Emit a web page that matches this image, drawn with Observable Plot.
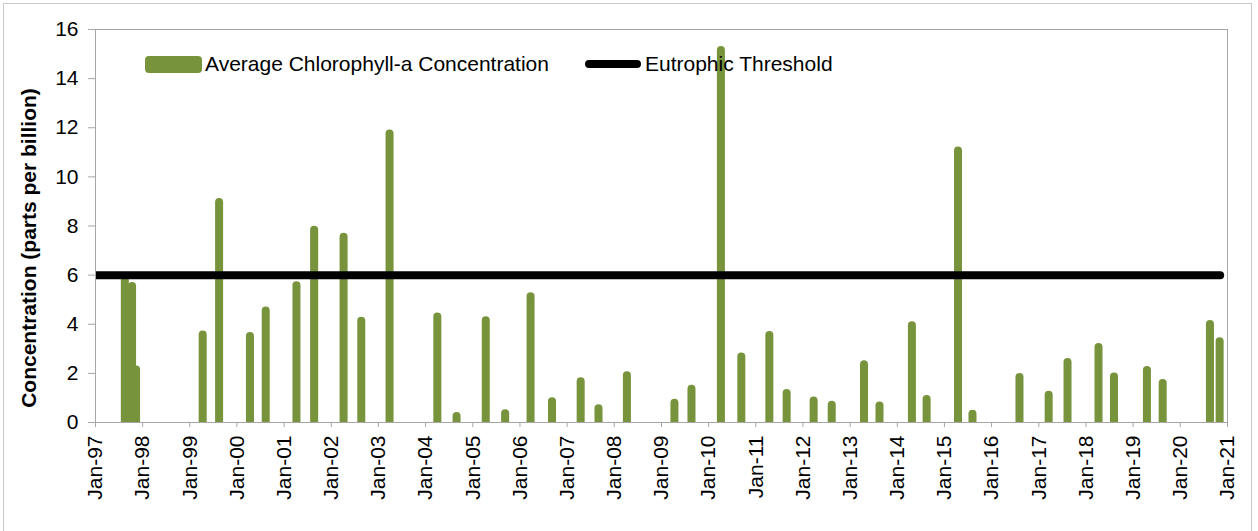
<!DOCTYPE html>
<html>
<head>
<meta charset="utf-8">
<script src="https://cdn.jsdelivr.net/npm/d3@7"></script>
<script src="https://cdn.jsdelivr.net/npm/@observablehq/plot@0.6"></script>
<style>
  body { margin: 0; background: #fff; font-family: "Liberation Sans", Arial, sans-serif; }
  #wrap { position: relative; width: 1258px; height: 531px; overflow: hidden; }
  #border { position: absolute; left: 3px; top: 3px; width: 1247px; height: 560px; border: 1px solid #c8c8c8; }
  #chart { position: absolute; left: 0; top: 0; }
  .lg { position: absolute; font-size: 21px; line-height: 21px; color: #000; white-space: nowrap; }
  .sw { position: absolute; }
</style>
</head>
<body>
<div id="wrap">
  <div id="border"></div>
  <div id="chart"></div>
  <div id="legend"></div>
</div>
<script>
// ---- data ----
const sampleDates = [
  "1997-08-20", "1997-10-15", "1997-11-15",
  "1999-04-15", "1999-08-20",
  "2000-04-15", "2000-08-15",
  "2001-04-10", "2001-08-25",
  "2002-04-10", "2002-08-25",
  "2003-04-01",
  "2004-04-05", "2004-09-01",
  "2005-04-15", "2005-09-12",
  "2006-03-28", "2006-09-10",
  "2007-04-20", "2007-09-05",
  "2008-04-12",
  "2009-04-15", "2009-08-25",
  "2010-04-10", "2010-09-15",
  "2011-04-20", "2011-09-01",
  "2012-03-28", "2012-08-15",
  "2013-04-22", "2013-08-20",
  "2014-04-28", "2014-08-20",
  "2015-04-20", "2015-08-10",
  "2016-08-08",
  "2017-03-22", "2017-08-15",
  "2018-04-12", "2018-08-10",
  "2019-04-22", "2019-08-22",
  "2020-08-22", "2020-11-05"
];
const chlorophyll = [
  5.95, 5.7, 2.3,
  3.73, 9.12,
  3.66, 4.70,
  5.73, 7.99,
  7.70, 4.28,
  11.91,
  4.46, 0.41,
  4.31, 0.52,
  5.28, 1.01,
  1.82, 0.72,
  2.07,
  0.95, 1.52,
  15.31, 2.83,
  3.70, 1.34,
  1.04, 0.87,
  2.51, 0.83,
  4.10, 1.10,
  11.22, 0.50,
  1.99,
  1.27, 2.61,
  3.22, 2.02,
  2.28, 1.75,
  4.15, 3.45
];
const thresholdValue = 6;
const thresholdDates = ["1997-01-01", "2020-11-05"];
const xTickYears = [1997, 1998, 1999, 2000, 2001, 2002, 2003, 2004, 2005, 2006, 2007, 2008,
                    2009, 2010, 2011, 2012, 2013, 2014, 2015, 2016, 2017, 2018, 2019, 2020, 2021];
const yTicks = [0, 2, 4, 6, 8, 10, 12, 14, 16];
const yLabel = "Concentration (parts per billion)";
const seriesNames = ["Average Chlorophyll-a Concentration", "Eutrophic Threshold"];
const seriesColors = ["#77933c", "#000000"];

// ---- build tables ----
const bars = sampleDates.map((d, i) => ({ date: d3.isoParse(d), value: chlorophyll[i] }));
const threshold = thresholdDates.map(d => ({ date: d3.isoParse(d), value: thresholdValue }));
const xTicks = xTickYears.map(y => new Date(Date.UTC(y, 0, 1)));
const halfBar = 31; // days either side of sample date

const chart = Plot.plot({
  width: 1258,
  height: 531,
  marginLeft: 95,
  marginRight: 31,
  marginTop: 29,
  marginBottom: 109,
  style: { fontFamily: '"Liberation Sans", Arial, sans-serif', fontSize: "21px", color: "#000", background: "transparent", overflow: "visible" },
  x: { type: "utc", domain: [xTicks[0], xTicks[xTicks.length - 1]] },
  y: { domain: [0, 16] },
  marks: [
    Plot.rect(bars, {
      x1: d => d3.utcDay.offset(d.date, -halfBar),
      x2: d => d3.utcDay.offset(d.date, halfBar),
      y1: -0.6,
      y2: "value",
      rx: 4,
      fill: seriesColors[0],
      clip: true
    }),
    Plot.line(threshold, {
      x: "date", y: "value",
      stroke: seriesColors[1], strokeWidth: 8, strokeLinecap: "round",
      clip: true
    }),
    Plot.frame({ stroke: "#a6a6a6", strokeWidth: 1 }),
    Plot.axisY({
      ticks: yTicks, tickSize: 7, tickPadding: 10, stroke: "#a6a6a6",
      label: null, fontSize: 21, fill: "#000"
    }),
    Plot.axisX({
      ticks: xTicks, tickFormat: d3.utcFormat("%b-%y"), tickRotate: -90,
      tickSize: 5, tickPadding: 8, stroke: "#a6a6a6",
      label: null, fontSize: 21, fill: "#000"
    }),
    Plot.text([yLabel], {
      text: d => d, frameAnchor: "left", textAnchor: "middle", rotate: -90,
      dx: -66, dy: 22, fontWeight: "bold", fontSize: 21, fill: "#000"
    })
  ]
});
document.getElementById("chart").appendChild(chart);

// ---- legend (inside plot area) ----
const legend = document.getElementById("legend");
legend.innerHTML = `
  <div class="sw" style="left:145px;top:56px;width:57px;height:17px;border-radius:4px;background:${seriesColors[0]}"></div>
  <div class="lg" style="left:205px;top:53px">${seriesNames[0]}</div>
  <div class="sw" style="left:585px;top:60px;width:56px;height:8px;border-radius:4px;background:${seriesColors[1]}"></div>
  <div class="lg" style="left:645px;top:53px">${seriesNames[1]}</div>
`;
</script>
</body>
</html>
